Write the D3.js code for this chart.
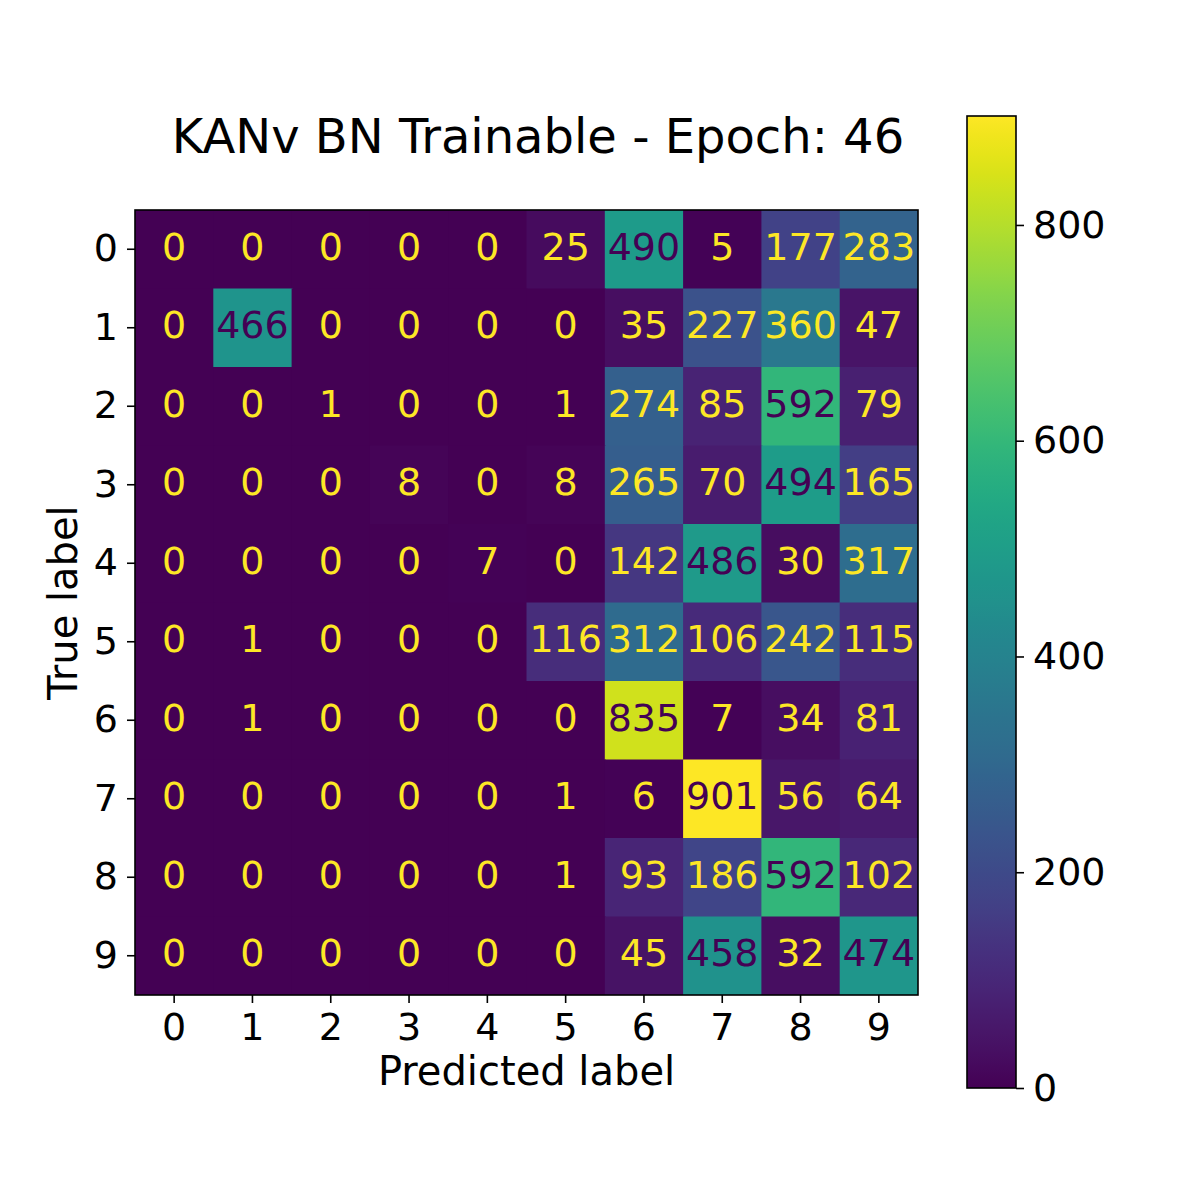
<!DOCTYPE html>
<html>
<head>
<meta charset="utf-8">
<title>Confusion matrix</title>
<script src="https://cdn.jsdelivr.net/npm/d3@7"></script>
<style>
  body { margin: 0; background: #fff; }
  text { font-family: "DejaVu Sans", sans-serif; }
</style>
</head>
<body>
<svg id="chart" width="1196" height="1204"></svg>
<script>
// class labels (true on rows, predicted on columns)
var labels = ["0", "1", "2", "3", "4", "5", "6", "7", "8", "9"];

// one array per true label
var row0 = [0, 0, 0, 0, 0, 25, 490, 5, 177, 283];
var row1 = [0, 466, 0, 0, 0, 0, 35, 227, 360, 47];
var row2 = [0, 0, 1, 0, 0, 1, 274, 85, 592, 79];
var row3 = [0, 0, 0, 8, 0, 8, 265, 70, 494, 165];
var row4 = [0, 0, 0, 0, 7, 0, 142, 486, 30, 317];
var row5 = [0, 1, 0, 0, 0, 116, 312, 106, 242, 115];
var row6 = [0, 1, 0, 0, 0, 0, 835, 7, 34, 81];
var row7 = [0, 0, 0, 0, 0, 1, 6, 901, 56, 64];
var row8 = [0, 0, 0, 0, 0, 1, 93, 186, 592, 102];
var row9 = [0, 0, 0, 0, 0, 0, 45, 458, 32, 474];

var colorbarTicks = [0, 200, 400, 600, 800];

var title = "KANv BN Trainable - Epoch: 46";

var rows = [row0, row1, row2, row3, row4, row5, row6, row7, row8, row9];

var cells = [];
rows.forEach(function(r, i) {
  r.forEach(function(v, j) {
    cells.push({ t: labels[i], p: labels[j], v: v });
  });
});

var vmin = d3.min(cells, function(d) { return d.v; });
var vmax = d3.max(cells, function(d) { return d.v; });
var thresh = (vmin + vmax) / 2;

// note: "top" is taken by window.top, so use plot* names
var plotLeft = 135, plotRight = 918, plotTop = 210, plotBottom = 995;
var fontSize = 38;

var svg = d3.select("#chart");

var x = d3.scaleBand().domain(labels).range([plotLeft, plotRight]);
var y = d3.scaleBand().domain(labels).range([plotTop, plotBottom]);

var color = d3.scaleSequential(d3.interpolateViridis).domain([vmin, vmax]);

// cells (overlap by 1px so no seams show)
svg.append("g").selectAll("rect")
  .data(cells)
  .enter()
  .append("rect")
  .attr("x", function(d) { return x(d.p); })
  .attr("y", function(d) { return y(d.t); })
  .attr("width", function(d) { return d.p === "9" ? x.bandwidth() : x.bandwidth() + 1; })
  .attr("height", function(d) { return d.t === "9" ? y.bandwidth() : y.bandwidth() + 1; })
  .attr("fill", function(d) { return color(d.v); });

// counts
svg.append("g").selectAll("text")
  .data(cells)
  .enter()
  .append("text")
  .attr("x", function(d) { return x(d.p) + x.bandwidth() / 2; })
  .attr("y", function(d) { return y(d.t) + y.bandwidth() / 2; })
  .attr("dy", "0.28em")
  .attr("text-anchor", "middle")
  .style("font-size", fontSize + "px")
  .attr("fill", function(d) { return d.v > thresh ? color(vmin) : color(vmax); })
  .text(function(d) { return d.v; });

// frame
svg.append("rect")
  .attr("x", plotLeft).attr("y", plotTop)
  .attr("width", plotRight - plotLeft).attr("height", plotBottom - plotTop)
  .attr("fill", "none").attr("stroke", "#000").attr("stroke-width", 1.6);

function styleAxis(g) {
  g.select(".domain").remove();
  g.selectAll(".tick line").attr("stroke", "#000").attr("stroke-width", 1.6);
  g.selectAll(".tick text")
    .style("font-size", fontSize + "px")
    .style("font-family", '"DejaVu Sans", sans-serif')
    .attr("fill", "#000");
}

svg.append("g")
  .attr("transform", "translate(0," + plotBottom + ")")
  .call(d3.axisBottom(x).tickSize(8).tickPadding(10))
  .call(styleAxis);

svg.append("g")
  .attr("transform", "translate(" + plotLeft + ",0)")
  .call(d3.axisLeft(y).tickSize(8).tickPadding(9))
  .call(styleAxis);

// titles
svg.append("text")
  .attr("x", 538).attr("y", 153)
  .attr("text-anchor", "middle")
  .style("font-size", "48px")
  .text(title);

svg.append("text")
  .attr("x", (plotLeft + plotRight) / 2).attr("y", 1085)
  .attr("text-anchor", "middle")
  .style("font-size", "40px")
  .text("Predicted label");

svg.append("text")
  .attr("transform", "translate(77," + (plotTop + plotBottom) / 2 + ") rotate(-90)")
  .attr("text-anchor", "middle")
  .style("font-size", "40px")
  .text("True label");

// colorbar
var cbLeft = 967, cbRight = 1016, cbTop = 116, cbBottom = 1088;
var cb = d3.scaleLinear().domain([vmin, vmax]).range([cbBottom, cbTop]);

var grad = svg.append("defs").append("linearGradient")
  .attr("id", "viridis")
  .attr("x1", "0%").attr("y1", "100%")
  .attr("x2", "0%").attr("y2", "0%");
d3.range(0, 1.0001, 0.02).forEach(function(t) {
  grad.append("stop")
    .attr("offset", (t * 100) + "%")
    .attr("stop-color", d3.interpolateViridis(t));
});

svg.append("rect")
  .attr("x", cbLeft).attr("y", cbTop)
  .attr("width", cbRight - cbLeft).attr("height", cbBottom - cbTop)
  .attr("fill", "url(#viridis)")
  .attr("stroke", "#000").attr("stroke-width", 1.6);

svg.append("g")
  .attr("transform", "translate(" + cbRight + ",0)")
  .call(d3.axisRight(cb).tickValues(colorbarTicks).tickSize(8).tickPadding(9))
  .call(styleAxis);
</script>
</body>
</html>
